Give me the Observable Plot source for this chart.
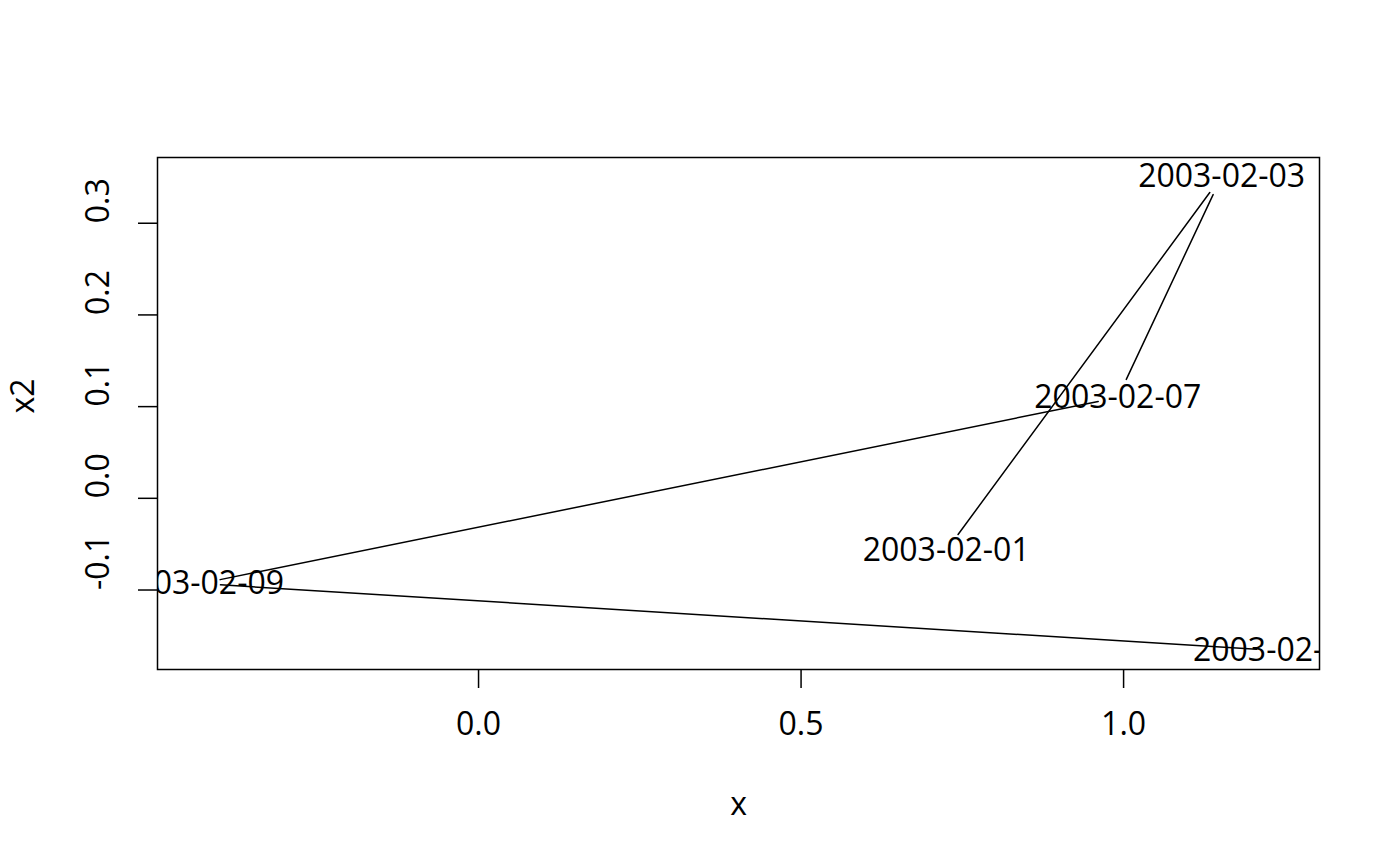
<!DOCTYPE html>
<html>
<head>
<meta charset="utf-8">
<script src="https://cdn.jsdelivr.net/npm/d3@7"></script>
<script src="https://cdn.jsdelivr.net/npm/@observablehq/plot@0.6"></script>
<style>
  html, body { margin: 0; padding: 0; background: #fff; }
  #chart svg { display: block; }
</style>
</head>
<body>
<div id="chart"></div>
<script>
// Data (zoo series: dates, x, x2)
const dates = ["2003-02-01", "2003-02-03", "2003-02-07", "2003-02-09", "2003-02-14"];
const xVals = [0.725, 1.152, 0.991, -0.431, 1.237];
const yVals = [-0.057, 0.351, 0.110, -0.093, -0.166];
const xTicks = [0, 0.5, 1];
const yTicks = [-0.1, 0, 0.1, 0.2, 0.3];
const xLabel = "x";
const yLabel = "x2";

const pts = dates.map((d, i) => ({date: d, x: xVals[i], y: yVals[i]}));
const segs = d3.pairs(pts).map(([a, b]) => ({x1: a.x, y1: a.y, x2: b.x, y2: b.y}));

function pad(vals) {
  const [lo, hi] = d3.extent(vals);
  const w = hi - lo;
  return [lo - 0.04 * w, hi + 0.04 * w];
}
const fmt = d => d3.format(".1f")(d).replace("\u2212", "-");

const font = "'Open Sans', 'Noto Sans', sans-serif";
const fs = 32;

const chart = Plot.plot({
  width: 1400,
  height: 866,
  marginLeft: 157,
  marginRight: 81,
  marginTop: 157,
  marginBottom: 197,
  style: {fontFamily: font, background: "#fff", color: "#000"},
  x: {domain: pad(xVals)},
  y: {domain: pad(yVals)},
  marks: [
    Plot.frame({stroke: "#000", strokeWidth: 1.5}),
    Plot.axisX({ticks: xTicks, tickSize: 19, tickFormat: () => "", label: null, strokeWidth: 1.5}),
    Plot.axisY({ticks: yTicks, tickSize: 19, tickFormat: () => "", label: null, strokeWidth: 1.5}),
    Plot.text(xTicks, {x: d => d, text: fmt, frameAnchor: "bottom", dy: 65, fontSize: fs}),
    Plot.text(yTicks, {y: d => d, text: fmt, frameAnchor: "left", dx: -59, rotate: -90, fontSize: fs}),
    Plot.text([xLabel], {text: d => d, frameAnchor: "bottom", dy: 145, fontSize: fs}),
    Plot.text([yLabel], {text: d => d, frameAnchor: "left", dx: -134, rotate: -90, fontSize: fs}),
    Plot.arrow(segs, {x1: "x1", y1: "y1", x2: "x2", y2: "y2", inset: 20, headLength: 0,
      stroke: "#000", strokeWidth: 1.5}),
    Plot.text(pts, {x: "x", y: "y", text: "date", fontSize: fs, fill: "#000", clip: true})
  ]
});

document.getElementById("chart").appendChild(chart);
</script>
</body>
</html>
